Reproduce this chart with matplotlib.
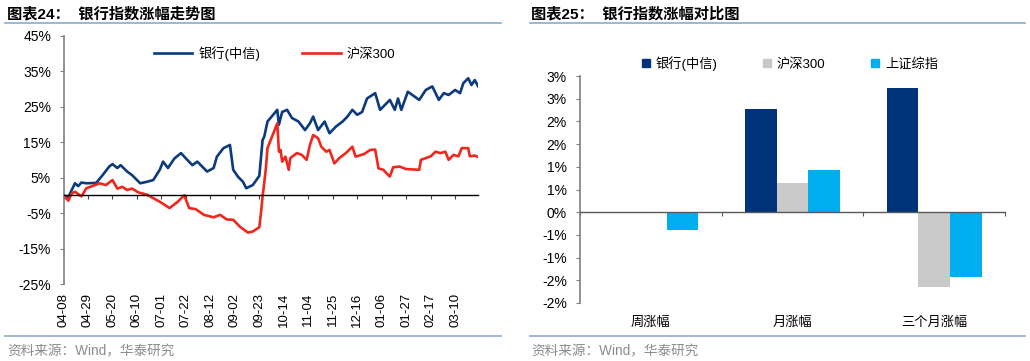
import numpy as np
import pandas as pd
import matplotlib
matplotlib.use('Agg')
import matplotlib.pyplot as plt
from matplotlib.lines import Line2D

plt.rcParams['font.family'] = ['Liberation Sans', 'Noto Sans CJK SC', 'DejaVu Sans']

# ---------------- data ----------------
start_date = '2024-04-08'
end_date = '2025-03-28'

bank_dates = ['2024-04-08', '2024-04-11', '2024-04-17', '2024-04-19', '2024-04-23', '2024-04-26',
              '2024-05-06', '2024-05-10', '2024-05-16', '2024-05-20', '2024-05-23', '2024-05-27',
              '2024-05-31', '2024-06-05', '2024-06-12', '2024-06-18', '2024-06-24', '2024-06-28',
              '2024-07-02', '2024-07-05', '2024-07-11', '2024-07-17', '2024-07-22', '2024-07-26',
              '2024-07-31', '2024-08-05', '2024-08-08', '2024-08-14', '2024-08-16', '2024-08-22',
              '2024-08-28', '2024-08-30', '2024-09-04', '2024-09-09', '2024-09-11', '2024-09-17',
              '2024-09-23', '2024-09-25', '2024-09-26', '2024-09-30', '2024-10-08', '2024-10-09',
              '2024-10-11', '2024-10-16', '2024-10-21', '2024-10-25', '2024-10-31', '2024-11-05',
              '2024-11-07', '2024-11-12', '2024-11-18', '2024-11-21', '2024-11-27', '2024-12-03',
              '2024-12-06', '2024-12-11', '2024-12-16', '2024-12-19', '2024-12-24', '2024-12-31',
              '2025-01-03', '2025-01-08', '2025-01-13', '2025-01-16', '2025-01-20', '2025-01-22',
              '2025-01-28', '2025-02-06', '2025-02-12', '2025-02-18', '2025-02-24', '2025-02-27',
              '2025-03-04', '2025-03-10', '2025-03-13', '2025-03-17', '2025-03-20', '2025-03-24',
              '2025-03-26', '2025-03-28']
bank_vals = [0.0, -0.5, 3.4, 2.6, 3.6, 3.4,
             3.5, 5.7, 8.1, 8.8, 7.7, 8.5,
             6.7, 5.7, 3.4, 3.8, 4.3, 7.2,
             9.5, 7.7, 10.4, 11.9, 10.4, 8.5,
             9.5, 8.1, 6.7, 7.7, 10.9, 13.3,
             14.2, 7.2, 5.2, 3.8, 2.0, 2.9,
             5.5, 15.6, 16.5, 20.8, 24.1, 19.9,
             23.5, 24.1, 21.8, 20.8, 18.4, 20.3,
             22.2, 18.4, 20.8, 17.5, 19.4, 20.8,
             22.2, 24.1, 22.7, 23.5, 27.3, 28.8,
             24.1, 25.5, 26.9, 24.1, 27.3, 24.1,
             29.2, 26.9, 29.7, 30.7, 26.9, 28.8,
             28.3, 29.7, 28.8, 31.6, 33.0, 31.1,
             32.5, 30.8]

hs300_dates = ['2024-04-08', '2024-04-11', '2024-04-15', '2024-04-17', '2024-04-23', '2024-04-26',
               '2024-05-06', '2024-05-08', '2024-05-14', '2024-05-20', '2024-05-23', '2024-05-28',
               '2024-05-31', '2024-06-05', '2024-06-11', '2024-06-18', '2024-06-24', '2024-06-28',
               '2024-07-08', '2024-07-15', '2024-07-19', '2024-07-24', '2024-07-30', '2024-08-06',
               '2024-08-14', '2024-08-20', '2024-08-26', '2024-08-30', '2024-09-05', '2024-09-12',
               '2024-09-17', '2024-09-23', '2024-09-24', '2024-09-25', '2024-09-26', '2024-09-27',
               '2024-09-30', '2024-10-08', '2024-10-09', '2024-10-10', '2024-10-11', '2024-10-15',
               '2024-10-17', '2024-10-18', '2024-10-24', '2024-10-29', '2024-11-01', '2024-11-05',
               '2024-11-07', '2024-11-12', '2024-11-14', '2024-11-19', '2024-11-21', '2024-11-26',
               '2024-11-29', '2024-12-05', '2024-12-11', '2024-12-13', '2024-12-20', '2024-12-26',
               '2024-12-31', '2025-01-02', '2025-01-07', '2025-01-10', '2025-01-13', '2025-01-15',
               '2025-01-21', '2025-01-27', '2025-02-06', '2025-02-07', '2025-02-12', '2025-02-17',
               '2025-02-20', '2025-02-25', '2025-02-28', '2025-03-04', '2025-03-07', '2025-03-12',
               '2025-03-14', '2025-03-20', '2025-03-21', '2025-03-26', '2025-03-28']
hs300_vals = [0.0, -1.5, 0.5, 1.0, -0.3, 2.0,
              3.0, 3.4, 2.9, 4.3, 1.9, 2.4,
              1.5, 1.9, 0.8, 0.2, -0.8, -1.8,
              -3.6, -1.8, 0.0, -3.6, -3.9, -5.5,
              -6.2, -5.5, -6.8, -6.9, -8.8, -10.5,
              -10.2, -9.0, -5.0, -0.3, 3.5, 7.6,
              13.3, 20.3, 12.3, 12.8, 9.5, 10.9,
              7.2, 10.5, 11.9, 11.4, 10.0, 14.2,
              17.0, 16.1, 13.7, 12.3, 12.8, 9.0,
              10.5, 11.9, 13.7, 10.9, 11.6, 12.8,
              12.9, 7.6, 7.2, 5.7, 5.3, 7.9,
              8.1, 7.4, 7.2, 10.0, 10.5, 11.0,
              12.3, 11.9, 12.3, 10.0, 11.4, 11.0,
              13.3, 13.3, 11.0, 11.2, 10.8]

line_tick_labels = ['04-08', '04-29', '05-20', '06-10', '07-01', '07-22', '08-12', '09-02',
                    '09-23', '10-14', '11-04', '11-25', '12-16', '01-06', '01-27', '02-17', '03-10']
line_yticks = [45, 35, 25, 15, 5, -5, -15, -25]
line_yticklabels = ['45%', '35%', '25%', '15%', '5%', '-5%', '-15%', '-25%']
line_series_names = ['银行(中信)', '沪深300']

bar_categories = ['周涨幅', '月涨幅', '三个月涨幅']
bar_series_names = ['银行(中信)', '沪深300', '上证综指']
bar_bank = [0.01, 2.27, 2.73]
bar_hs300 = [0.0, 0.65, -1.64]
bar_sh = [-0.39, 0.92, -1.42]
bar_yticks = [3.0, 2.5, 2.0, 1.5, 1.0, 0.5, 0.0, -0.5, -1.0, -1.5, -2.0]
bar_yticklabels = ['3%', '3%', '2%', '2%', '1%', '1%', '0%', '-1%', '-1%', '-2%', '-2%']

# ---------------- styles ----------------
W, H = 1030, 361
C_BANK_LINE = '#0B3A7E'
C_HS_LINE = '#F0271C'
C_BANK_BAR = '#00347A'
C_HS_BAR = '#C9C9C9'
C_SH_BAR = '#00AEEF'
C_RULE = '#8EAACB'
C_SRC = '#8C8C8C'

fig = plt.figure(figsize=(W / 100, H / 100), dpi=100)

def fx(px):
    return px / W

def fy(py):
    return 1 - py / H

# ---------------- left panel ----------------
days = pd.bdate_range(start_date, end_date)
bx = [days.get_loc(pd.Timestamp(d)) for d in bank_dates]
hx = [days.get_loc(pd.Timestamp(d)) for d in hs300_dates]
tick_pos = []
for lab in line_tick_labels:
    m = int(lab[:2])
    yr = 2024 if m >= 4 else 2025
    tick_pos.append(days.get_loc(pd.Timestamp(f'{yr}-{lab}')))

ax1 = fig.add_axes([fx(63.5), fy(284), fx(478 - 63.5), (284 - 35.7) / H])
ax1.plot(bx, bank_vals, color=C_BANK_LINE, lw=1.9, label=line_series_names[0], solid_joinstyle='round')
ax1.plot(hx, hs300_vals, color=C_HS_LINE, lw=1.9, label=line_series_names[1], solid_joinstyle='round')
ax1.set_xlim(0, len(days) - 1)
ax1.set_ylim(-25, 45)
ax1.set_yticks(line_yticks)
ax1.set_yticklabels(line_yticklabels)
ax1.spines['top'].set_visible(False)
ax1.spines['right'].set_visible(False)
ax1.spines['left'].set_color('#808080')
ax1.spines['left'].set_linewidth(1.2)
ax1.spines['bottom'].set_position(('data', 0))
ax1.spines['bottom'].set_color('black')
ax1.spines['bottom'].set_linewidth(1.0)
ax1.set_xticks(tick_pos)
ax1.tick_params(axis='x', direction='out', length=3, color='#404040', labelbottom=False)
ax1.tick_params(axis='y', direction='out', length=3, color='#808080', labelsize=10, pad=6)
sec1 = ax1.secondary_xaxis('bottom')
sec1.set_xticks(tick_pos)
sec1.set_xticklabels(line_tick_labels, rotation=90, fontsize=9.5)
sec1.tick_params(length=0, pad=6.5)
sec1.spines['bottom'].set_visible(False)

fig.legend(handles=ax1.get_lines(), labels=line_series_names, loc='center',
           bbox_to_anchor=(fx(274.5), fy(53.3)), ncol=2, frameon=False, fontsize=9.5,
           handlelength=2.9, handletextpad=0.45, columnspacing=3.2)

# ---------------- right panel ----------------
ax2 = fig.add_axes([fx(580), fy(303), fx(1005 - 580), (303 - 76) / H])
xc = np.arange(len(bar_categories))
bw = 0.224
ax2.bar(xc - bw, bar_bank, bw, color=C_BANK_BAR, label=bar_series_names[0])
ax2.bar(xc, bar_hs300, bw, color=C_HS_BAR, label=bar_series_names[1])
ax2.bar(xc + bw, bar_sh, bw, color=C_SH_BAR, label=bar_series_names[2])
ax2.set_xlim(-0.5, len(bar_categories) - 0.5)
ax2.set_ylim(-2, 3)
ax2.set_yticks(bar_yticks)
ax2.set_yticklabels(bar_yticklabels)
ax2.spines['top'].set_visible(False)
ax2.spines['right'].set_visible(False)
ax2.spines['left'].set_color('#808080')
ax2.spines['left'].set_linewidth(1.2)
ax2.spines['bottom'].set_position(('data', 0))
ax2.spines['bottom'].set_color('#595959')
ax2.spines['bottom'].set_linewidth(1.0)
ax2.set_xticks(np.arange(len(bar_categories) + 1) - 0.5)
ax2.tick_params(axis='x', direction='out', length=3, color='#595959', labelbottom=False)
ax2.tick_params(axis='y', direction='out', length=3, color='#808080', labelsize=10, pad=6.5)
sec2 = ax2.secondary_xaxis('bottom')
sec2.set_xticks(xc)
sec2.set_xticklabels(bar_categories, fontsize=9.5)
sec2.tick_params(length=0, pad=9.5)
sec2.spines['bottom'].set_visible(False)

bar_handles = [Line2D([], [], ls='none', marker='s', markersize=6, color=c)
               for c in (C_BANK_BAR, C_HS_BAR, C_SH_BAR)]
fig.legend(handles=bar_handles, labels=bar_series_names, loc='center',
           bbox_to_anchor=(fx(789.5), fy(63.3)), ncol=3, frameon=False, fontsize=9.5,
           handlelength=0.7, handletextpad=0.4, columnspacing=3.4)

# ---------------- titles, rules, sources ----------------
fig.text(fx(7), fy(14), '图表24：  银行指数涨幅走势图', fontsize=11, fontweight='bold',
         ha='left', va='center')
fig.text(fx(531), fy(14), '图表25：  银行指数涨幅对比图', fontsize=11, fontweight='bold',
         ha='left', va='center')
for x0, x1 in ((5, 501), (530, 1025)):
    fig.add_artist(Line2D([fx(x0), fx(x1)], [fy(23.3), fy(23.3)], color=C_RULE, lw=1.2))
    fig.add_artist(Line2D([fx(x0), fx(x1)], [fy(336), fy(336)], color=C_RULE, lw=1.2))
fig.text(fx(7), fy(351), '资料来源：Wind，华泰研究', fontsize=9.8, color=C_SRC, ha='left', va='center')
fig.text(fx(531), fy(351), '资料来源：Wind，华泰研究', fontsize=9.8, color=C_SRC, ha='left', va='center')

fig.savefig('out.png', dpi=100)
